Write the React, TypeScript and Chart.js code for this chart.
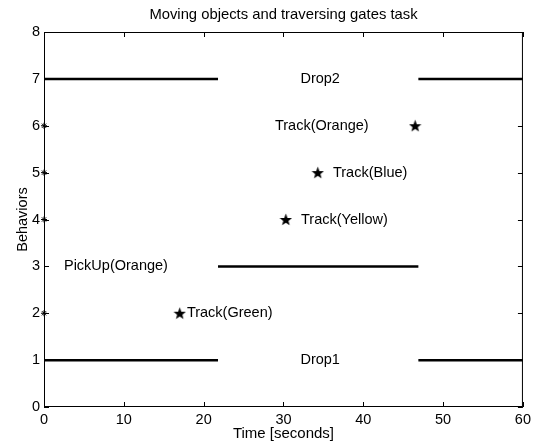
import React, { useEffect, useRef } from "react";
import { Chart, registerables } from "chart.js";

Chart.register(...registerables);

const FONT = "'Liberation Sans', Arial, Helvetica, sans-serif";

const titleText = "Moving objects and traversing gates task";
const xAxisTitle = "Time [seconds]";
const yAxisTitle = "Behaviors";
const xMin = 0;
const xMax = 60;
const xStep = 10;
const yMin = 0;
const yMax = 8;
const yStep = 1;

// Horizontal behaviour segments
const dropSegStarts = [0, 46.9];
const dropSegEnds = [21.8, 60];
const drop1Level = 1;
const drop2Level = 7;
const pickupStarts = [21.8];
const pickupEnds = [46.9];
const pickupLevel = 3;

// Track events (filled stars)
const trackTimes = [17.0, 30.3, 34.3, 46.5];
const trackLevels = [2, 4, 5, 6];

// Small onset markers at t = 0
const onsetTimes = [0, 0, 0, 0];
const onsetLevels = [2, 4, 5, 6];

// Text annotations
const labelTexts = ["Drop2", "Track(Orange)", "Track(Blue)", "Track(Yellow)", "PickUp(Orange)", "Track(Green)", "Drop1"];
const labelTimes = [34.6, 34.8, 36.2, 32.2, 2.5, 17.9, 34.6];
const labelLevels = [7, 6, 5, 4, 3, 2, 1];
const labelAligns = ["center", "center", "left", "left", "left", "left", "center"];

function segmentsToPoints(starts: number[], ends: number[], level: number) {
  const pts: any[] = [];
  starts.forEach((s, i) => {
    pts.push({ x: s, y: level });
    pts.push({ x: ends[i], y: level });
    pts.push({ x: ends[i], y: null });
  });
  return pts;
}

function makeStar(size: number) {
  const c = document.createElement("canvas");
  c.width = size;
  c.height = size;
  const ctx = c.getContext("2d")!;
  const cx = size / 2;
  const cy = size / 2 + 0.6;
  const R = size / 2;
  const r = R * 0.42;
  ctx.beginPath();
  for (let i = 0; i < 10; i++) {
    const ang = -Math.PI / 2 + (i * Math.PI) / 5;
    const rad = i % 2 === 0 ? R : r;
    const px = cx + rad * Math.cos(ang);
    const py = cy + rad * Math.sin(ang);
    if (i === 0) ctx.moveTo(px, py);
    else ctx.lineTo(px, py);
  }
  ctx.closePath();
  ctx.fillStyle = "#000";
  ctx.fill();
  return c;
}

const framePlugin = {
  id: "matlabFrame",
  afterDatasetsDraw(chart: any) {
    const { ctx, chartArea, scales } = chart;
    const { left, right, top, bottom } = chartArea;
    ctx.save();
    ctx.strokeStyle = "#000";
    ctx.lineWidth = 1;
    ctx.strokeRect(left + 0.5, top + 0.5, right - left - 1, bottom - top - 1);
    const tl = 5;
    ctx.beginPath();
    scales.x.ticks.forEach((t: any) => {
      const px = Math.round(scales.x.getPixelForValue(t.value)) + 0.5;
      ctx.moveTo(px, bottom);
      ctx.lineTo(px, bottom - tl);
      ctx.moveTo(px, top);
      ctx.lineTo(px, top + tl);
    });
    scales.y.ticks.forEach((t: any) => {
      const py = Math.round(scales.y.getPixelForValue(t.value)) + 0.5;
      ctx.moveTo(left, py);
      ctx.lineTo(left + tl, py);
      ctx.moveTo(right, py);
      ctx.lineTo(right - tl, py);
    });
    ctx.stroke();

    ctx.fillStyle = "#000";
    ctx.font = `14.5px ${FONT}`;
    ctx.textBaseline = "middle";
    labelTexts.forEach((txt, i) => {
      ctx.textAlign = labelAligns[i] as CanvasTextAlign;
      ctx.fillText(txt, scales.x.getPixelForValue(labelTimes[i]), scales.y.getPixelForValue(labelLevels[i]));
    });

    // chart title, centred over the plot area (MATLAB style)
    ctx.font = `14.8px ${FONT}`;
    ctx.textAlign = "center";
    ctx.fillText(titleText, (left + right) / 2, top - 17);
    ctx.restore();
  },
};

export default function App() {
  const ref = useRef<HTMLCanvasElement>(null);
  useEffect(() => {
    if (!ref.current) return;
    const star = makeStar(13);
    const chart = new Chart(ref.current, {
      type: "line",
      data: {
        datasets: [
          {
            data: segmentsToPoints(dropSegStarts, dropSegEnds, drop2Level),
            borderColor: "#000",
            borderWidth: 2.5,
            pointRadius: 0,
            spanGaps: false,
          },
          {
            data: segmentsToPoints(pickupStarts, pickupEnds, pickupLevel),
            borderColor: "#000",
            borderWidth: 2.5,
            pointRadius: 0,
            spanGaps: false,
          },
          {
            data: segmentsToPoints(dropSegStarts, dropSegEnds, drop1Level),
            borderColor: "#000",
            borderWidth: 2.5,
            pointRadius: 0,
            spanGaps: false,
          },
          {
            data: trackTimes.map((t, i) => ({ x: t, y: trackLevels[i] })),
            showLine: false,
            pointStyle: star as any,
            pointRadius: 6,
            borderColor: "#000",
            backgroundColor: "#000",
          },
          {
            data: onsetTimes.map((t, i) => ({ x: t, y: onsetLevels[i] })),
            showLine: false,
            pointStyle: "star",
            pointRadius: 3,
            borderWidth: 1,
            borderColor: "#000",
            backgroundColor: "#000",
            clip: false as any,
          },
        ],
      },
      options: {
        animation: false,
        responsive: false,
        devicePixelRatio: 1,
        layout: { padding: { left: 0, right: 12, top: 32, bottom: 0 } },
        plugins: {
          legend: { display: false },
          tooltip: { enabled: false },
          title: { display: false },
        },
        scales: {
          x: {
            type: "linear",
            min: xMin,
            max: xMax,
            ticks: { stepSize: xStep, color: "#000", font: { size: 14.5, family: FONT }, padding: 4, maxRotation: 0 },
            grid: { display: false, drawTicks: false },
            border: { display: false },
            title: {
              display: true,
              text: xAxisTitle,
              color: "#000",
              font: { size: 15, family: FONT },
              padding: { top: 0, bottom: 2 },
            },
            afterFit: (s: any) => {
              s.height = 38;
            },
          },
          y: {
            type: "linear",
            min: yMin,
            max: yMax,
            ticks: { stepSize: yStep, color: "#000", font: { size: 14.5, family: FONT }, padding: 4 },
            grid: { display: false, drawTicks: false },
            border: { display: false },
            title: {
              display: true,
              text: yAxisTitle,
              color: "#000",
              font: { size: 14.5, family: FONT },
              padding: { top: 14, bottom: 0 },
            },
            afterFit: (s: any) => {
              s.width = 44;
            },
          },
        },
      },
      plugins: [framePlugin],
    });
    return () => chart.destroy();
  }, []);
  return (
    <div style={{ position: "fixed", left: 0, top: 0, width: 535, height: 445, background: "#fff" }}>
      <canvas ref={ref} width={535} height={445} />
    </div>
  );
}
